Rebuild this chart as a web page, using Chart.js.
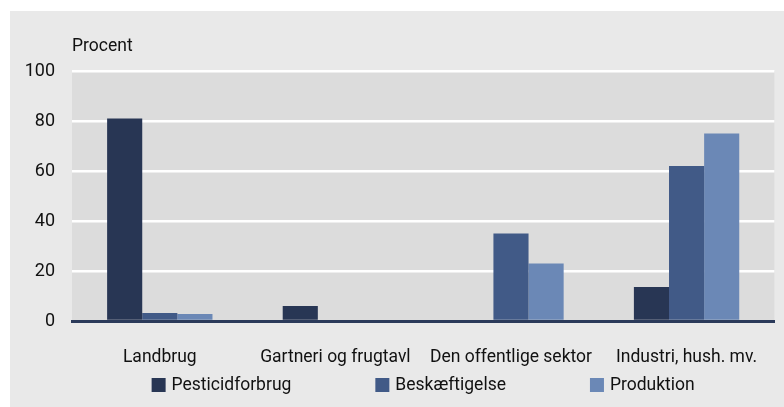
<!DOCTYPE html>
<html>
<head>
<meta charset="utf-8">
<script src="https://cdn.jsdelivr.net/npm/chart.js@4/dist/chart.umd.min.js"></script>
<style>
  html, body { margin: 0; padding: 0; background: #fff; }
  #panel { position: absolute; left: 10px; top: 11px; width: 774px; height: 396px; background: #e9e9e9; }
  canvas { display: block; }
</style>
</head>
<body>
<div id="panel"><canvas id="chart" width="774" height="396"></canvas></div>
<script>
const categories = ['Landbrug', 'Gartneri og frugtavl', 'Den offentlige sektor', 'Industri, hush. mv.'];
const pesticidforbrug = [81, 6, 0, 13.6];
const beskaeftigelse  = [3.2, 0, 35, 62];
const produktion      = [2.8, 0, 23, 75];
const seriesNames  = ['Pesticidforbrug', 'Beskæftigelse', 'Produktion'];
const seriesColors = ['#283654', '#415a87', '#6b88b6'];
const yTitle = 'Procent';

const FONT = 'Roboto, "Open Sans", sans-serif';
const TXT = '#111111';

// plot area background + "Procent" label + custom legend
const decor = {
  id: 'decor',
  beforeDraw(chart) {
    const { ctx, chartArea: a } = chart;
    ctx.save();
    ctx.fillStyle = '#dcdcdc';
    ctx.fillRect(a.left, a.top, a.right - a.left, a.bottom - a.top);
    ctx.restore();
  },
  afterDraw(chart) {
    const { ctx, chartArea: a } = chart;
    ctx.save();
    ctx.font = '17.5px ' + FONT;
    ctx.fillStyle = TXT;
    ctx.textBaseline = 'middle';
    ctx.fillText(yTitle, a.left, a.top - 24);

    // legend
    const box = 14, gap = 6, spacing = 84;
    const items = chart.data.datasets.map(ds => ({
      label: ds.label, color: ds.backgroundColor,
      w: box + gap + ctx.measureText(ds.label).width
    }));
    const total = items.reduce((s, it) => s + it.w, 0) + spacing * (items.length - 1);
    let x = (a.left + a.right) / 2 - total / 2;
    const y = 374;
    items.forEach(it => {
      ctx.fillStyle = it.color;
      ctx.fillRect(x, y - box / 2, box, box);
      ctx.fillStyle = TXT;
      ctx.fillText(it.label, x + box + gap, y + 1);
      x += it.w + spacing;
    });
    ctx.restore();
  }
};

new Chart(document.getElementById('chart'), {
  type: 'bar',
  data: {
    labels: categories,
    datasets: [
      { label: seriesNames[0], data: pesticidforbrug, backgroundColor: seriesColors[0] },
      { label: seriesNames[1], data: beskaeftigelse,  backgroundColor: seriesColors[1] },
      { label: seriesNames[2], data: produktion,      backgroundColor: seriesColors[2] }
    ]
  },
  options: {
    responsive: false,
    animation: false,
    layout: { padding: { top: 60, right: 7, bottom: 32, left: 0 } },
    datasets: { bar: { categoryPercentage: 0.6, barPercentage: 1.0 } },
    plugins: { legend: { display: false }, tooltip: { enabled: false } },
    scales: {
      x: {
        z: 1,
        grid: { display: false, drawTicks: false },
        border: { display: true, color: '#2b3a5a', width: 3 },
        ticks: { color: TXT, font: { family: FONT, size: 17.5 }, padding: 26, maxRotation: 0, autoSkip: false },
        afterFit(scale) { scale.height = 54; }
      },
      y: {
        min: 0, max: 100,
        grid: { color: '#ffffff', lineWidth: 2.5, drawTicks: false },
        border: { display: false },
        ticks: { stepSize: 20, color: TXT, font: { family: FONT, size: 18 }, padding: 17 },
        afterFit(scale) { scale.width = 62; }
      }
    }
  },
  plugins: [decor]
});
</script>
</body>
</html>
